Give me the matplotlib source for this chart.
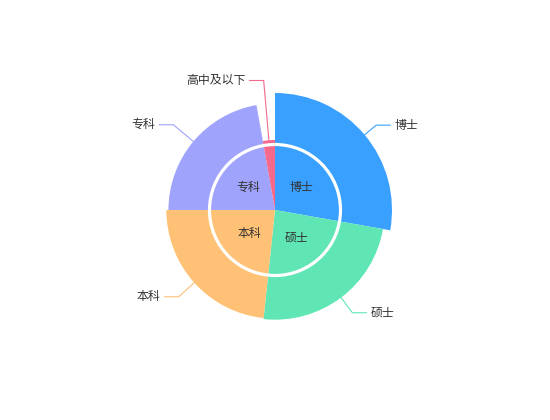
import numpy as np
import matplotlib
matplotlib.use("Agg")
import matplotlib.pyplot as plt
from matplotlib.patches import Wedge, Circle

plt.rcParams['font.family'] = ['Noto Sans CJK SC', 'DejaVu Sans']

# data
names = ['博士', '硕士', '本科', '专科', '高中及以下']
values = [100, 86, 84, 80, 10]
inner_names = ['博士', '硕士', '本科', '专科']
colors = ['#3aa0ff', '#5fe6b4', '#ffc175', '#9fa3fc', '#f4698c']

# layout (pixels, y up)
cx, cy = 275, 210
r_min, r_max = 70, 117
line1 = [15, 19, 21, 26, 60]   # first leader segment per label
line2 = 14

fig = plt.figure(figsize=(5.5, 4.2), dpi=100)
ax = fig.add_axes([0, 0, 1, 1])
ax.set_xlim(0, 550)
ax.set_ylim(0, 420)
ax.axis('off')

vals = np.array(values, dtype=float)
angles = vals / vals.sum() * 360
starts = np.concatenate([[0], np.cumsum(angles)[:-1]])
radii = r_min + (vals - vals.min()) / (vals.max() - vals.min()) * (r_max - r_min)

for i, name in enumerate(names):
    a0, a1 = starts[i], starts[i] + angles[i]
    r = radii[i]
    ax.add_patch(Wedge((cx, cy), r, 90 - a1, 90 - a0, facecolor=colors[i],
                       edgecolor='none', zorder=1))
    mid = np.radians(a0 + angles[i] / 2)
    s, c = np.sin(mid), np.cos(mid)
    p0 = (cx + r * s, cy + r * c)
    rb = r + line1[i]
    p1 = (cx + rb * s, cy + rb * c)
    side = 1 if s > 0 else -1
    p2 = (p1[0] + side * line2, p1[1])
    ax.plot([p0[0], p1[0], p2[0]], [p0[1], p1[1], p2[1]], color=colors[i],
            lw=0.8, zorder=2)
    ax.text(p2[0] + side * 4, p2[1], name, ha='left' if side > 0 else 'right',
            va='center', fontsize=8.6, color='#333333')

# white ring
ax.add_patch(Circle((cx, cy), 65.5, facecolor='none', edgecolor='white',
                    lw=2.3, zorder=3))

# inner labels
for i, name in enumerate(inner_names):
    mid = np.radians(starts[i] + angles[i] / 2)
    ax.text(cx + 35 * np.sin(mid), cy + 35 * np.cos(mid), name, ha='center',
            va='center', fontsize=8.6, color='#333333', zorder=4)

fig.savefig('out.png', dpi=100)
